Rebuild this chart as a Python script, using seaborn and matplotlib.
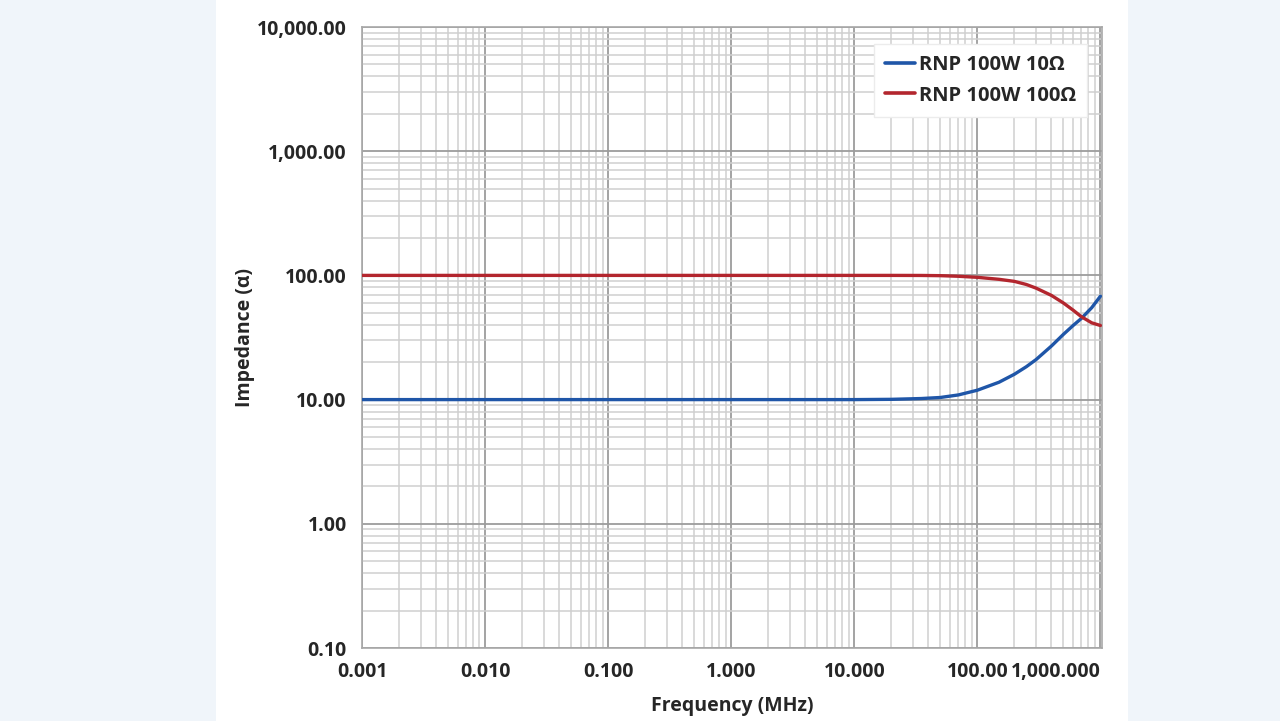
import matplotlib
matplotlib.use("Agg")
import matplotlib.pyplot as plt
import matplotlib.ticker as mticker
import seaborn as sns
import pandas as pd
import numpy as np

# ---- data ----
freq_mhz = [0.001, 0.01, 0.1, 1, 10, 20, 35, 50, 70, 100, 150, 200, 250, 300, 400, 500, 600, 700, 850, 1000]
z_10ohm = [10.0, 10.0, 10.0, 10.0, 10.0, 10.05, 10.2, 10.4, 10.9, 11.9, 13.8, 16.0, 18.4, 21.0, 27.0, 33.5, 39.5, 45.0, 55.0, 68.0]
z_100ohm = [100.0, 100.0, 100.0, 100.0, 100.0, 100.0, 99.9, 99.5, 98.4, 96.5, 93.0, 89.5, 84.5, 79.0, 69.0, 60.0, 52.5, 46.5, 41.5, 39.5]
series_names = ["RNP 100W 10Ω", "RNP 100W 100Ω"]
x_tick_vals = [0.001, 0.01, 0.1, 1, 10, 100, 1000]
x_tick_labels = ["0.001", "0.010", "0.100", "1.000", "10.000", "100.00", "1,000.000"]
y_tick_vals = [0.1, 1, 10, 100, 1000, 10000]
y_tick_labels = ["0.10", "1.00", "10.00", "100.00", "1,000.00", "10,000.00"]
x_label = "Frequency (MHz)"
y_label = "Impedance (α)"

df = pd.DataFrame({
    "freq": freq_mhz * 2,
    "z": z_10ohm + z_100ohm,
    "series": [series_names[0]] * len(freq_mhz) + [series_names[1]] * len(freq_mhz),
})

sns.set_theme(style="white")
plt.rcParams["font.family"] = ["Open Sans", "DejaVu Sans"]

fig = plt.figure(figsize=(12.8, 7.21), dpi=100)
fig.patch.set_facecolor("#f0f5fa")
# white panel
fig.add_artist(plt.Rectangle((216 / 1280, 0), (1128 - 216) / 1280, 1,
                             transform=fig.transFigure, facecolor="white",
                             edgecolor="none", zorder=0))

ax = fig.add_axes([362 / 1280, 73 / 721, 740 / 1280, 621 / 721])
ax.set_facecolor("white")

palette = {series_names[0]: "#1f56a8", series_names[1]: "#b3262e"}
sns.lineplot(data=df, x="freq", y="z", hue="series", palette=palette,
             linewidth=2.4, ax=ax, legend=True, zorder=5)

ax.set_xscale("log")
ax.set_yscale("log")
ax.set_xlim(0.001, 1030)
ax.set_ylim(0.1, 10000)

ax.xaxis.set_major_locator(mticker.FixedLocator(x_tick_vals))
ax.yaxis.set_major_locator(mticker.FixedLocator(y_tick_vals))
ax.xaxis.set_minor_locator(mticker.LogLocator(base=10, subs=np.arange(2, 10)))
ax.yaxis.set_minor_locator(mticker.LogLocator(base=10, subs=np.arange(2, 10)))
ax.xaxis.set_minor_formatter(mticker.NullFormatter())
ax.yaxis.set_minor_formatter(mticker.NullFormatter())
ax.set_xticklabels(x_tick_labels, fontsize=14, fontweight="bold")
ax.set_yticklabels(y_tick_labels, fontsize=14, fontweight="bold")
xl = ax.get_xticklabels()
xl[-1].set_horizontalalignment("right")

ax.tick_params(which="both", length=0)
ax.tick_params(axis="x", pad=10)
ax.tick_params(axis="y", pad=11)

ax.grid(which="major", color="#9c9c9c", linewidth=1.3, zorder=1)
ax.grid(which="minor", color="#cfcfcf", linewidth=1.1, zorder=1)
ax.set_axisbelow(True)
for s in ax.spines.values():
    s.set_color("#a8a8a8")
    s.set_linewidth(1.2)

ax.set_xlabel(x_label, fontsize=14, fontweight="bold", labelpad=10)
ax.set_ylabel(y_label, fontsize=14, fontweight="bold", labelpad=1)

leg = ax.legend(loc="upper right", bbox_to_anchor=(0.98, 0.972),
                frameon=True, fancybox=False, edgecolor="#ececec",
                framealpha=1, handlelength=1.5, handletextpad=0.2,
                borderpad=0.55, labelspacing=0.5, borderaxespad=0,
                prop={"weight": "bold", "size": 14.5})
for h in leg.get_lines():
    h.set_linewidth(2.6)

fig.savefig("out.png", dpi=100)
